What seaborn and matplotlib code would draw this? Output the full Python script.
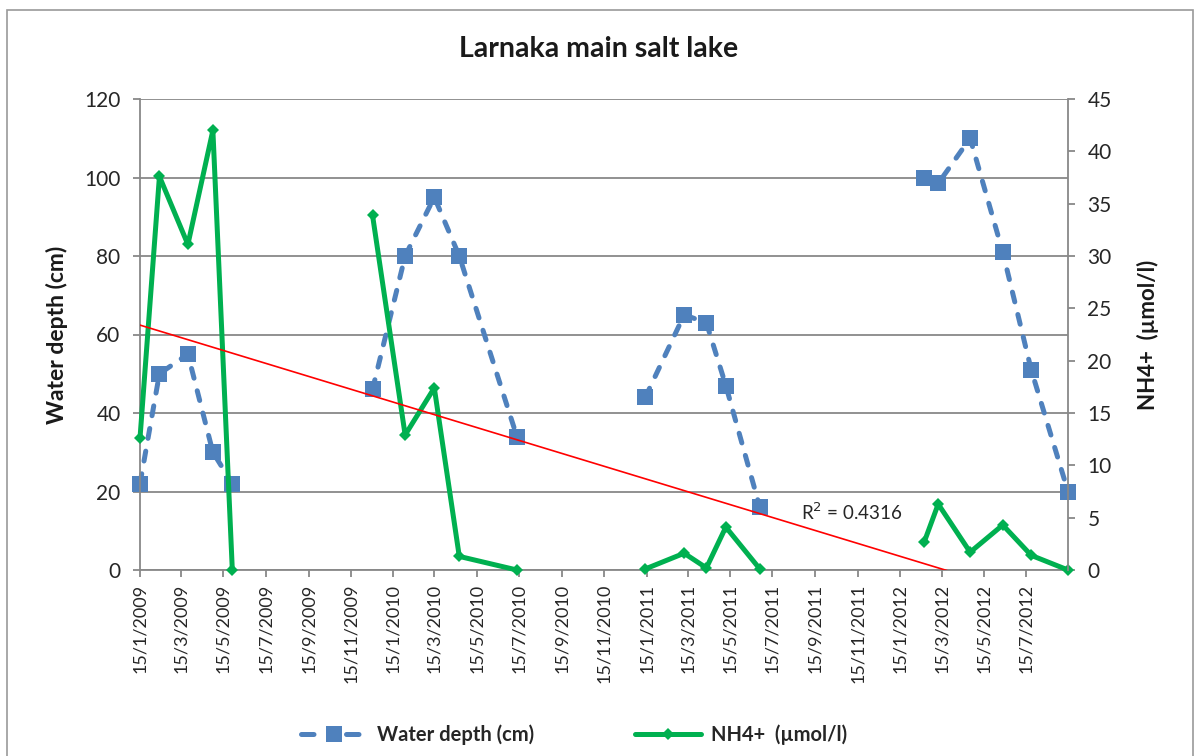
import numpy as np
import pandas as pd
import matplotlib
matplotlib.use("Agg")
import matplotlib.pyplot as plt
import matplotlib.dates as mdates
from matplotlib.lines import Line2D
from matplotlib.ticker import FuncFormatter, MultipleLocator
import seaborn as sns

sns.set_theme(style="white")
plt.rcParams["font.family"] = ["Lato", "DejaVu Sans"]

# Sampling dates
dates = ["2009-01-15", "2009-02-12", "2009-03-25", "2009-04-30", "2009-05-28",
         "2009-12-16", "2010-02-01", "2010-03-15", "2010-04-20", "2010-07-12",
         "2011-01-13", "2011-03-10", "2011-04-11", "2011-05-09", "2011-06-27",
         "2012-02-19", "2012-03-10", "2012-04-25", "2012-06-11", "2012-07-22",
         "2012-09-13"]
campaign = [1, 1, 1, 1, 1, 2, 2, 2, 2, 2, 3, 3, 3, 3, 3, 4, 4, 4, 4, 4, 4]
water_depth = [22, 50, 55, 30, 22, 46, 80, 95, 80, 34,
               44, 65, 63, 47, 16, 100, 98.5, 110, 81, 51, 20]
nh4 = [12.6, 37.6, 31.1, 42.0, 0, 33.9, 12.9, 17.4, 1.3, 0,
       0.1, 1.6, 0.2, 4.1, 0.1, 2.7, 6.3, 1.7, 4.3, 1.4, 0]

df = pd.DataFrame({"date": pd.to_datetime(dates), "campaign": campaign,
                   "depth": water_depth, "nh4": nh4})

blue = "#4F81BD"
green = "#00B050"
grey = "#888888"

fig = plt.figure(figsize=(11.97, 7.56), dpi=100)
ax = fig.add_axes([140 / 1197, 186 / 756, 928 / 1197, 471 / 756])
ax2 = ax.twinx()

# Water depth: dashed line broken between campaigns
sns.lineplot(data=df, x="date", y="depth", units="campaign", estimator=None,
             sort=False, ax=ax, color=blue, lw=3.6, linestyle=(0, (2, 2.6)),
             dash_capstyle="round", marker="s", markersize=11,
             markeredgewidth=0, clip_on=False, legend=False)

# NH4+ on secondary axis
sns.lineplot(data=df, x="date", y="nh4", units="campaign", estimator=None,
             sort=False, ax=ax2, color=green, lw=3.6, marker="D",
             markersize=6.5, markeredgewidth=0, clip_on=False, legend=False)

# Linear trend of NH4+
xnum = mdates.date2num(df["date"])
slope, icpt = np.polyfit(xnum, df["nh4"], 1)
xl = np.array([xnum.min(), xnum.max()])
ax2.plot(xl, slope * xl + icpt, color="red", lw=1.2)
ax2.text(0.767, 0.123, "R$^2$ = 0.4316", transform=ax2.transAxes,
         ha="center", va="center", fontsize=13.5, color="#262626")

ax.set_xlim(xnum.min(), xnum.max())
ax.set_ylim(0, 120)
ax2.set_ylim(0, 45)
ax.yaxis.set_major_locator(MultipleLocator(20))
ax2.yaxis.set_major_locator(MultipleLocator(5))

ax.xaxis.set_major_locator(mdates.MonthLocator(bymonth=[1, 3, 5, 7, 9, 11], bymonthday=15))
ax.xaxis.set_major_formatter(FuncFormatter(
    lambda v, p: (lambda d: f"{d.day}/{d.month}/{d.year}")(mdates.num2date(v))))
plt.setp(ax.get_xticklabels(), rotation=90)

ax.grid(axis="y", color=grey, lw=1.3)
ax.set_axisbelow(True)
for a in (ax, ax2):
    for s in a.spines.values():
        s.set_color(grey)
        s.set_linewidth(1.3)
    a.spines["top"].set_visible(False)
ax.spines["right"].set_visible(False)
ax2.spines["left"].set_visible(False)
ax2.spines["bottom"].set_visible(False)

ax.tick_params(axis="both", which="major", direction="out", length=5, width=1.3,
               color=grey, labelsize=15, labelcolor="#262626", pad=6)
ax.tick_params(axis="y", left=True, pad=9)
ax.tick_params(axis="x", bottom=True, labelsize=13, pad=5)
ax2.tick_params(axis="y", right=True, direction="out", length=5, width=1.3,
                color=grey, labelsize=15, labelcolor="#262626", pad=9)

ax.set_xlabel("")
ax.set_ylabel("")
ax2.set_ylabel("")
fig.text(57 / 1197, 1 - 335 / 756, "Water depth (cm)", rotation=90,
         ha="center", va="center", fontsize=16.5, fontweight="bold", color="#1a1a1a")
fig.text(1148 / 1197, 1 - 335 / 756, "NH4+  (µmol/l)", rotation=90,
         ha="center", va="center", fontsize=16, fontweight="bold", color="#1a1a1a")

fig.text(0.5, 1 - 49 / 756, "Larnaka main salt lake", ha="center", va="center",
         fontsize=20.5, fontweight="bold", color="#1a1a1a")

handles = [Line2D([], [], color=blue, lw=3.6, linestyle=(0, (2.5, 6.5)),
                  dash_capstyle="round", marker="s", markersize=11,
                  markeredgewidth=0),
           Line2D([], [], color=green, lw=3.6, marker="D", markersize=6.5,
                  markeredgewidth=0)]
fig.legend(handles, ["Water depth (cm)", "NH4+  (µmol/l)"], loc="center",
           bbox_to_anchor=(574 / 1197, 1 - 735 / 756), ncol=2, frameon=False,
           prop={"size": 14.5, "weight": "bold"}, handlelength=3.3,
           handletextpad=0.5, columnspacing=5)

fig.patches.append(plt.Rectangle((7 / 1197, -0.02), 1186 / 1197, 1.0068,
                                 transform=fig.transFigure, fill=False,
                                 edgecolor="#9a9a9a", lw=1.2))

fig.savefig("out.png", dpi=100)
